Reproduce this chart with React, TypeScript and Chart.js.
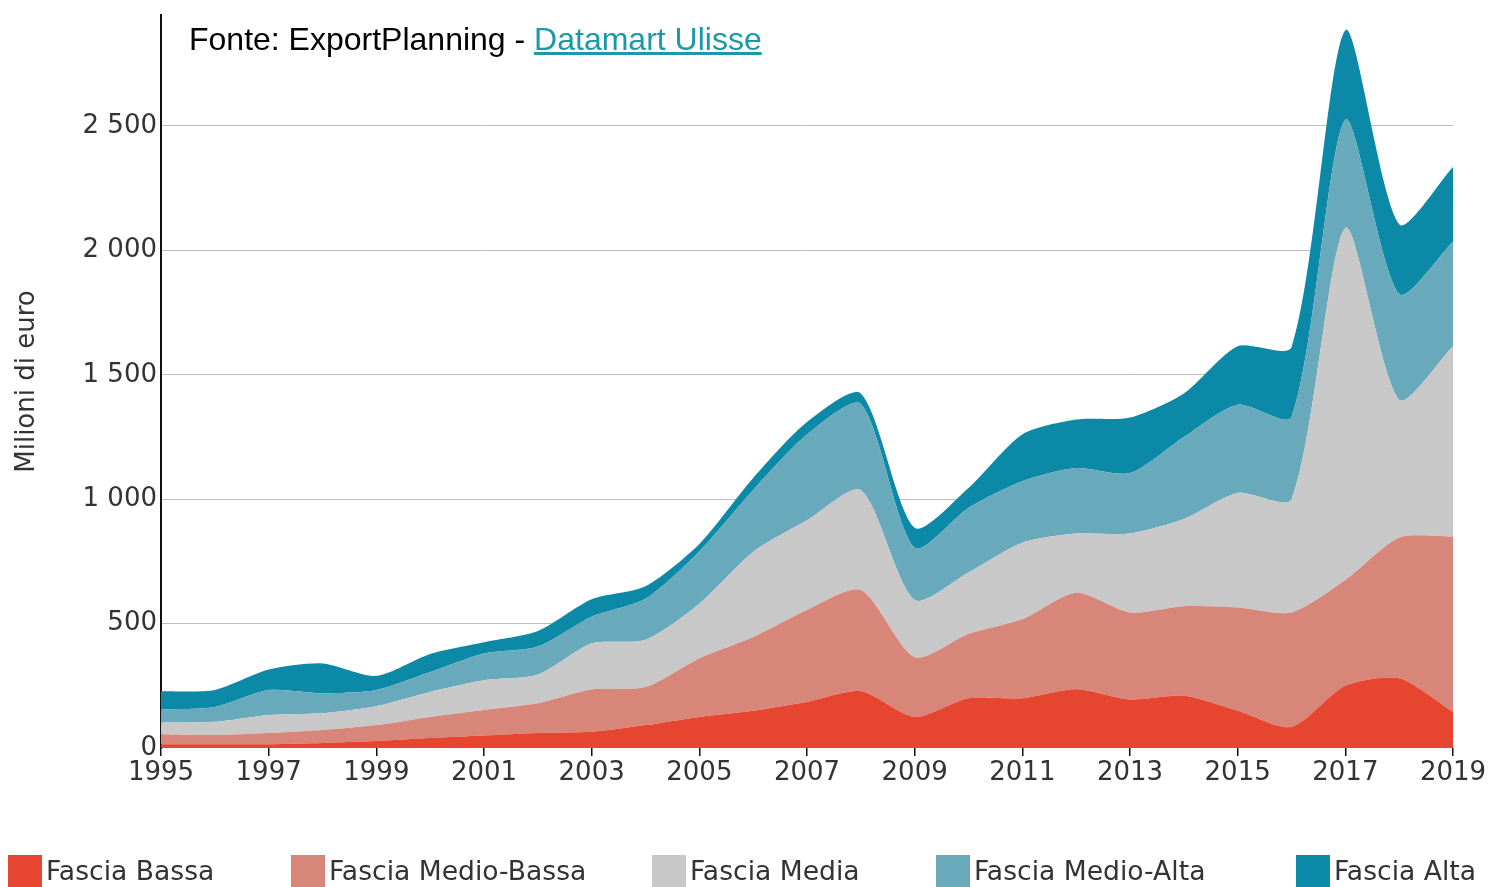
import React, { useEffect, useRef } from "react";
import { Chart, registerables } from "chart.js";

Chart.register(...registerables);

const years = [1995, 1996, 1997, 1998, 1999, 2000, 2001, 2002, 2003, 2004, 2005, 2006, 2007, 2008, 2009, 2010, 2011, 2012, 2013, 2014, 2015, 2016, 2017, 2018, 2019];

const fasciaBassa = [15, 15, 15, 20, 28, 40, 50, 60, 65, 92, 125, 150, 185, 228, 125, 200, 200, 236, 195, 210, 150, 85, 250, 280, 145];
const fasciaMedioBassa = [40, 37, 45, 52, 64, 85, 103, 120, 170, 153, 235, 296, 370, 407, 240, 258, 317, 388, 350, 360, 415, 460, 425, 565, 705];
const fasciaMedia = [47, 53, 73, 68, 76, 100, 119, 115, 185, 190, 220, 342, 360, 401, 230, 247, 308, 238, 317, 350, 460, 455, 1415, 555, 765];
const fasciaMedioAlta = [53, 60, 100, 80, 65, 80, 108, 113, 108, 165, 210, 249, 345, 347, 210, 260, 247, 263, 243, 330, 355, 330, 435, 425, 420];
const fasciaAlta = [73, 68, 82, 120, 57, 73, 45, 62, 70, 50, 30, 48, 50, 42, 80, 80, 188, 195, 223, 175, 235, 282, 360, 280, 300];

const seriesNames = ["Fascia Bassa", "Fascia Medio-Bassa", "Fascia Media", "Fascia Medio-Alta", "Fascia Alta"];
const seriesColors = ["#e6462f", "#d8857a", "#c8c8c8", "#68aabb", "#0b89a7"];
const seriesValues = [fasciaBassa, fasciaMedioBassa, fasciaMedia, fasciaMedioAlta, fasciaAlta];

const yTicks = [0, 500, 1000, 1500, 2000, 2500];
const yMax = 2946;

const legendLefts = [8, 291, 652, 936, 1296];

const FONT = "'DejaVu Sans', sans-serif";

function fmt(v: number): string {
  const s = String(Math.round(v));
  return s.replace(/\B(?=(\d{3})+(?!\d))/g, " ");
}

export default function App() {
  const ref = useRef<HTMLCanvasElement>(null);

  useEffect(() => {
    const canvas = ref.current!;
    const datasets = seriesValues.map((vals, i) => ({
      label: seriesNames[i],
      data: vals.map((v, j) => ({ x: years[j], y: v })),
      backgroundColor: seriesColors[i],
      borderColor: seriesColors[i],
      borderWidth: 0,
      pointRadius: 0,
      fill: i === 0 ? "origin" : "-1",
      tension: 0.25,
    }));

    const chart = new Chart(canvas, {
      type: "line",
      data: { datasets },
      options: {
        animation: false,
        responsive: false,
        devicePixelRatio: 1,
        layout: { padding: { left: 0, top: 15, right: 39, bottom: 0 } },
        plugins: {
          legend: { display: false },
          tooltip: { enabled: false },
        },
        scales: {
          x: {
            type: "linear",
            min: years[0],
            max: years[years.length - 1],
            ticks: {
              stepSize: 2,
              callback: (v: any) => String(v),
              font: { family: FONT, size: 26 },
              color: "#333",
              padding: 2,
              maxRotation: 0,
              autoSkip: false,
            },
            grid: {
              drawOnChartArea: false,
              drawTicks: true,
              tickLength: 8,
              color: "#111",
              lineWidth: 1.5,
            },
            border: { display: false },
            afterFit: (scale: any) => {
              scale.height = 887 - 748;
              scale.paddingLeft = 0;
              scale.paddingRight = 0;
            },
          },
          y: {
            stacked: true,
            min: 0,
            max: yMax,
            afterBuildTicks: (scale: any) => {
              scale.ticks = yTicks.map((v) => ({ value: v }));
            },
            ticks: {
              callback: (v: any) => fmt(Number(v)),
              font: { family: FONT, size: 26 },
              color: "#333",
              padding: 4,
            },
            grid: {
              color: (ctx: any) => (ctx.tick && ctx.tick.value === 0 ? "rgba(0,0,0,0)" : "#bdbdbd"),
              drawTicks: false,
              lineWidth: 1,
            },
            border: { display: true, color: "#111", width: 2 },
            title: {
              display: true,
              text: "Milioni di euro",
              font: { family: FONT, size: 26 },
              color: "#333",
              padding: { top: 12, bottom: 0 },
            },
            afterFit: (scale: any) => {
              scale.width = 161;
              scale.paddingTop = 0;
              scale.paddingBottom = 0;
            },
          },
        },
      },
    });
    return () => chart.destroy();
  }, []);

  return (
    <div
      style={{
        position: "fixed",
        left: 0,
        top: 0,
        width: 1492,
        height: 887,
        background: "#fff",
        overflow: "hidden",
      }}
    >
      <canvas
        ref={ref}
        width={1492}
        height={887}
        style={{ position: "absolute", left: 0, top: 0, width: 1492, height: 887 }}
      />
      <div
        style={{
          position: "absolute",
          left: 189,
          top: 23,
          fontFamily: "'Liberation Sans', Arial, sans-serif",
          fontSize: 32,
          lineHeight: "32px",
          color: "#000",
          whiteSpace: "nowrap",
        }}
      >
        Fonte: ExportPlanning -{" "}
        <a href="#" style={{ color: "#1a9aa9", textDecoration: "underline" }}>
          Datamart Ulisse
        </a>
      </div>
      {seriesNames.map((name, i) => (
        <div key={name}>
          <div
            style={{
              position: "absolute",
              left: legendLefts[i],
              top: 855,
              width: 34,
              height: 34,
              background: seriesColors[i],
            }}
          />
          <div
            style={{
              position: "absolute",
              left: legendLefts[i] + 38,
              top: 857,
              fontFamily: FONT,
              fontSize: 26.6,
              lineHeight: "27px",
              color: "#333",
              whiteSpace: "nowrap",
            }}
          >
            {name}
          </div>
        </div>
      ))}
    </div>
  );
}
